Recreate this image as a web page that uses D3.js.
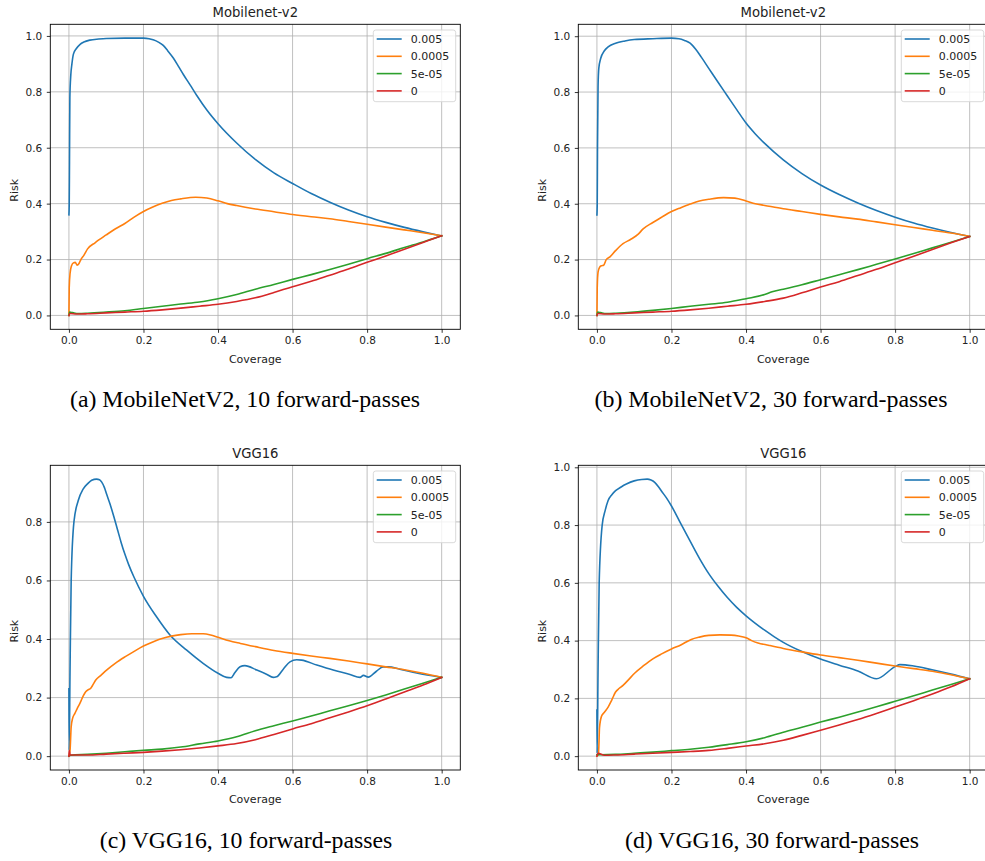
<!DOCTYPE html>
<html>
<head>
<meta charset="utf-8">
<script src="https://cdn.jsdelivr.net/npm/d3@7"></script>
<style>
  html, body { margin: 0; padding: 0; background: #fff; }
  svg { display: block; }
</style>
</head>
<body>
<svg id="chart" width="985" height="861"></svg>
<script>
// ---------------- data ----------------
const seriesNames = ["0.005", "0.0005", "5e-05", "0"];
const seriesColors = ["#1f77b4", "#ff7f0e", "#2ca02c", "#d62728"];
const coverageTicks = [0, 0.2, 0.4, 0.6, 0.8, 1.0];
const riskTicks = [0, 0.2, 0.4, 0.6, 0.8, 1.0];
const panelTitles = ["Mobilenet-v2", "Mobilenet-v2", "VGG16", "VGG16"];
const panelCaptions = [
  "(a) MobileNetV2, 10 forward-passes",
  "(b) MobileNetV2, 30 forward-passes",
  "(c) VGG16, 10 forward-passes",
  "(d) VGG16, 30 forward-passes"
];

// (a) MobileNetV2, 10 forward passes
const mobile10_005 = [[0,0.36],[0.0008,0.40],[0.0015,0.55],[0.0025,0.78],[0.005,0.86],[0.008,0.90],[0.012,0.935],[0.02,0.955],[0.03,0.970],[0.04,0.978],[0.056,0.985],[0.08,0.989],[0.10,0.991],[0.15,0.992],[0.20,0.992],[0.215,0.990],[0.226,0.986],[0.24,0.978],[0.253,0.966],[0.265,0.947],[0.28,0.921],[0.293,0.893],[0.307,0.862],[0.325,0.825],[0.343,0.787],[0.37,0.735],[0.40,0.686],[0.45,0.617],[0.50,0.558],[0.55,0.510],[0.60,0.472],[0.65,0.436],[0.70,0.405],[0.75,0.377],[0.80,0.353],[0.85,0.333],[0.90,0.315],[0.95,0.299],[1.0,0.284]];
const mobile10_0005 = [[0,0],[0.0008,0.10],[0.003,0.15],[0.007,0.178],[0.012,0.188],[0.017,0.19],[0.022,0.18],[0.027,0.186],[0.032,0.20],[0.04,0.215],[0.05,0.238],[0.07,0.26],[0.10,0.288],[0.125,0.31],[0.15,0.329],[0.175,0.352],[0.20,0.372],[0.225,0.388],[0.25,0.401],[0.275,0.411],[0.30,0.417],[0.34,0.423],[0.37,0.42],[0.40,0.41],[0.425,0.40],[0.45,0.393],[0.50,0.381],[0.55,0.371],[0.60,0.361],[0.65,0.353],[0.70,0.346],[0.75,0.336],[0.80,0.326],[0.85,0.316],[0.90,0.306],[0.95,0.296],[1.0,0.285]];
const mobile10_5e5 = [[0,0],[0.002,0.012],[0.01,0.01],[0.025,0.007],[0.05,0.008],[0.1,0.012],[0.15,0.017],[0.2,0.025],[0.25,0.033],[0.3,0.041],[0.35,0.048],[0.4,0.06],[0.45,0.075],[0.5,0.094],[0.55,0.111],[0.6,0.129],[0.65,0.146],[0.7,0.164],[0.75,0.183],[0.8,0.203],[0.85,0.222],[0.9,0.243],[0.95,0.263],[1.0,0.285]];
const mobile10_0 = [[0,0],[0.003,0.007],[0.02,0.005],[0.05,0.006],[0.1,0.009],[0.15,0.012],[0.2,0.015],[0.25,0.02],[0.3,0.026],[0.35,0.033],[0.4,0.04],[0.45,0.05],[0.5,0.063],[0.55,0.082],[0.6,0.103],[0.65,0.122],[0.7,0.144],[0.75,0.166],[0.8,0.19],[0.85,0.213],[0.9,0.237],[0.95,0.261],[1.0,0.285]];

// (b) MobileNetV2, 30 forward passes
const mobile30_005 = [[0,0.36],[0.0008,0.40],[0.0015,0.6],[0.003,0.82],[0.005,0.885],[0.01,0.92],[0.02,0.948],[0.03,0.962],[0.05,0.975],[0.075,0.983],[0.10,0.988],[0.15,0.991],[0.20,0.993],[0.22,0.991],[0.235,0.985],[0.25,0.975],[0.265,0.953],[0.28,0.925],[0.30,0.885],[0.325,0.835],[0.35,0.786],[0.375,0.737],[0.40,0.689],[0.425,0.650],[0.45,0.616],[0.50,0.557],[0.55,0.508],[0.60,0.467],[0.65,0.433],[0.70,0.403],[0.75,0.376],[0.80,0.352],[0.85,0.331],[0.90,0.313],[0.95,0.297],[1.0,0.283]];
const mobile30_0005 = [[0,0],[0.0008,0.10],[0.003,0.155],[0.007,0.172],[0.012,0.178],[0.018,0.18],[0.025,0.2],[0.035,0.21],[0.05,0.232],[0.07,0.257],[0.09,0.272],[0.11,0.29],[0.124,0.31],[0.15,0.333],[0.175,0.353],[0.20,0.372],[0.225,0.386],[0.25,0.399],[0.275,0.41],[0.30,0.416],[0.34,0.422],[0.37,0.42],[0.40,0.41],[0.425,0.40],[0.45,0.394],[0.50,0.382],[0.55,0.372],[0.60,0.362],[0.65,0.353],[0.70,0.345],[0.75,0.335],[0.80,0.325],[0.85,0.315],[0.90,0.305],[0.95,0.295],[1.0,0.283]];
const mobile30_5e5 = [[0,0],[0.002,0.012],[0.01,0.01],[0.025,0.007],[0.05,0.008],[0.1,0.012],[0.15,0.018],[0.2,0.025],[0.25,0.033],[0.3,0.04],[0.35,0.047],[0.4,0.06],[0.45,0.075],[0.47,0.085],[0.5,0.094],[0.55,0.11],[0.6,0.128],[0.65,0.146],[0.7,0.164],[0.75,0.183],[0.8,0.202],[0.85,0.222],[0.9,0.242],[0.95,0.262],[1.0,0.283]];
const mobile30_0 = [[0,0],[0.003,0.007],[0.02,0.005],[0.05,0.006],[0.1,0.009],[0.15,0.012],[0.2,0.015],[0.25,0.02],[0.3,0.026],[0.35,0.033],[0.4,0.04],[0.45,0.05],[0.5,0.062],[0.55,0.081],[0.6,0.102],[0.65,0.121],[0.7,0.143],[0.75,0.165],[0.8,0.189],[0.85,0.212],[0.9,0.236],[0.95,0.26],[1.0,0.283]];

// (c) VGG16, 10 forward passes
const vgg10_005 = [[0,0.23],[0.0006,0.02],[0.003,0.3],[0.006,0.6],[0.0134,0.8],[0.025,0.873],[0.038,0.912],[0.05,0.93],[0.061,0.942],[0.074,0.946],[0.082,0.944],[0.088,0.936],[0.095,0.918],[0.101,0.895],[0.11,0.862],[0.12,0.820],[0.13,0.775],[0.14,0.730],[0.15,0.690],[0.16,0.655],[0.175,0.610],[0.2,0.546],[0.235,0.476],[0.271,0.414],[0.316,0.362],[0.36,0.317],[0.40,0.283],[0.423,0.269],[0.435,0.268],[0.445,0.285],[0.459,0.305],[0.472,0.309],[0.504,0.294],[0.53,0.28],[0.548,0.269],[0.557,0.271],[0.575,0.297],[0.593,0.322],[0.611,0.329],[0.624,0.328],[0.665,0.311],[0.709,0.294],[0.754,0.279],[0.781,0.269],[0.79,0.276],[0.803,0.27],[0.825,0.29],[0.843,0.305],[0.857,0.305],[0.888,0.297],[0.933,0.284],[1.0,0.269]];
const vgg10_0005 = [[0,0],[0.003,0.02],[0.006,0.10],[0.01,0.13],[0.016,0.146],[0.023,0.165],[0.03,0.182],[0.038,0.205],[0.045,0.22],[0.052,0.227],[0.058,0.231],[0.065,0.245],[0.072,0.26],[0.085,0.275],[0.101,0.294],[0.125,0.318],[0.15,0.339],[0.175,0.358],[0.2,0.376],[0.225,0.39],[0.25,0.402],[0.275,0.41],[0.3,0.415],[0.33,0.418],[0.36,0.418],[0.38,0.414],[0.4,0.406],[0.43,0.394],[0.46,0.385],[0.5,0.374],[0.55,0.361],[0.6,0.351],[0.65,0.342],[0.7,0.334],[0.75,0.325],[0.8,0.315],[0.85,0.305],[0.9,0.295],[0.95,0.283],[1.0,0.269]];
const vgg10_5e5 = [[0,0],[0.005,0.003],[0.05,0.006],[0.1,0.01],[0.15,0.015],[0.2,0.02],[0.25,0.024],[0.3,0.031],[0.35,0.042],[0.4,0.052],[0.45,0.066],[0.5,0.087],[0.55,0.104],[0.6,0.12],[0.65,0.137],[0.7,0.155],[0.75,0.172],[0.8,0.19],[0.85,0.209],[0.9,0.229],[0.95,0.249],[1.0,0.269]];
const vgg10_0 = [[0,0],[0.0008,0.02],[0.003,0.004],[0.05,0.004],[0.1,0.007],[0.15,0.01],[0.2,0.013],[0.25,0.017],[0.3,0.022],[0.35,0.028],[0.4,0.035],[0.45,0.043],[0.5,0.056],[0.55,0.074],[0.6,0.093],[0.65,0.111],[0.7,0.131],[0.75,0.151],[0.8,0.172],[0.85,0.195],[0.9,0.219],[0.95,0.243],[1.0,0.269]];

// (d) VGG16, 30 forward passes
const vgg30_005 = [[0,0.16],[0.0006,0.01],[0.003,0.3],[0.006,0.6],[0.014,0.799],[0.022,0.85],[0.03,0.885],[0.04,0.905],[0.05,0.919],[0.065,0.932],[0.079,0.942],[0.1,0.953],[0.12,0.958],[0.135,0.959],[0.145,0.956],[0.155,0.948],[0.165,0.933],[0.173,0.918],[0.186,0.895],[0.2,0.866],[0.225,0.805],[0.249,0.747],[0.275,0.685],[0.3,0.632],[0.325,0.588],[0.35,0.549],[0.375,0.515],[0.4,0.486],[0.425,0.46],[0.45,0.436],[0.475,0.414],[0.5,0.394],[0.55,0.362],[0.6,0.336],[0.65,0.315],[0.7,0.295],[0.75,0.268],[0.8,0.31],[0.813,0.317],[0.85,0.312],[0.902,0.298],[0.95,0.284],[1.0,0.268]];
const vgg30_0005 = [[0,0],[0.004,0.005],[0.007,0.10],[0.012,0.137],[0.02,0.152],[0.03,0.17],[0.04,0.195],[0.05,0.222],[0.06,0.235],[0.07,0.245],[0.085,0.265],[0.101,0.287],[0.125,0.313],[0.15,0.337],[0.175,0.355],[0.2,0.371],[0.225,0.385],[0.253,0.404],[0.275,0.412],[0.3,0.418],[0.33,0.42],[0.36,0.419],[0.38,0.416],[0.4,0.41],[0.415,0.4],[0.432,0.392],[0.46,0.384],[0.5,0.373],[0.55,0.361],[0.6,0.35],[0.65,0.341],[0.7,0.332],[0.75,0.322],[0.8,0.312],[0.85,0.303],[0.9,0.294],[0.95,0.282],[1.0,0.268]];
const vgg30_5e5 = [[0,0.005],[0.01,0.005],[0.05,0.006],[0.1,0.01],[0.15,0.014],[0.2,0.019],[0.25,0.024],[0.3,0.031],[0.35,0.04],[0.4,0.05],[0.45,0.064],[0.5,0.083],[0.55,0.1],[0.6,0.118],[0.65,0.135],[0.7,0.153],[0.75,0.171],[0.8,0.19],[0.85,0.209],[0.9,0.229],[0.95,0.248],[1.0,0.268]];
const vgg30_0 = [[0,0],[0.003,0.01],[0.02,0.003],[0.05,0.004],[0.1,0.007],[0.15,0.01],[0.2,0.013],[0.25,0.016],[0.3,0.02],[0.35,0.027],[0.4,0.035],[0.45,0.043],[0.5,0.055],[0.55,0.072],[0.6,0.09],[0.65,0.108],[0.7,0.127],[0.75,0.148],[0.8,0.17],[0.85,0.192],[0.9,0.215],[0.95,0.24],[1.0,0.268]];

const panelSeries = [
  [mobile10_005, mobile10_0005, mobile10_5e5, mobile10_0],
  [mobile30_005, mobile30_0005, mobile30_5e5, mobile30_0],
  [vgg10_005, vgg10_0005, vgg10_5e5, vgg10_0],
  [vgg30_005, vgg30_0005, vgg30_5e5, vgg30_0]
];

// ---------------- layout ----------------
const layout = [
  { left: 50.3,  top: 24.3,  width: 410, height: 305,   capX: 245, capY: 407.3, capLen: 350 },
  { left: 578.3, top: 24.3,  width: 410, height: 305,   capX: 771, capY: 407.3, capLen: 353 },
  { left: 50.3,  top: 465.3, width: 410, height: 304.7, capX: 246, capY: 848.3, capLen: 292.5 },
  { left: 578.3, top: 465.3, width: 410, height: 304.7, capX: 772, capY: 848.3, capLen: 294 }
];

const svg = d3.select("#chart");
const FONT = "'DejaVu Sans', sans-serif";

panelSeries.forEach((series, i) => {
  const L = layout[i];
  const g = svg.append("g").attr("transform", `translate(${L.left},${L.top})`);

  const x = d3.scaleLinear().domain([-0.05, 1.05]).range([0, L.width]);
  const allY = series.flat().map(d => d[1]);
  const [ymin, ymax] = d3.extent(allY);
  const pad = (ymax - ymin) * 0.05;
  const y = d3.scaleLinear().domain([ymin - pad, ymax + pad]).range([L.height, 0]);
  const yT = riskTicks.filter(t => t >= y.domain()[0] && t <= y.domain()[1]);

  // grid
  g.append("g").selectAll("line").data(coverageTicks).join("line")
    .attr("x1", d => x(d)).attr("x2", d => x(d))
    .attr("y1", 0).attr("y2", L.height)
    .attr("stroke", "#b0b0b0").attr("stroke-width", 0.8);
  g.append("g").selectAll("line").data(yT).join("line")
    .attr("x1", 0).attr("x2", L.width)
    .attr("y1", d => y(d)).attr("y2", d => y(d))
    .attr("stroke", "#b0b0b0").attr("stroke-width", 0.8);

  // clip
  const cid = "clip" + i;
  g.append("clipPath").attr("id", cid).append("rect")
    .attr("width", L.width).attr("height", L.height);

  const line = d3.line().x(d => x(d[0])).y(d => y(d[1])).curve(d3.curveMonotoneX);
  const lines = g.append("g").attr("clip-path", `url(#${cid})`);
  series.forEach((s, k) => {
    lines.append("path").datum(s)
      .attr("d", line)
      .attr("fill", "none")
      .attr("stroke", seriesColors[k])
      .attr("stroke-width", 1.6)
      .attr("stroke-linejoin", "round")
      .attr("stroke-linecap", "square");
  });

  // axes
  const xAxis = d3.axisBottom(x).tickValues(coverageTicks).tickFormat(d3.format(".1f"))
    .tickSize(3.5).tickPadding(4);
  const yAxis = d3.axisLeft(y).tickValues(yT).tickFormat(d3.format(".1f"))
    .tickSize(3.5).tickPadding(4.5);
  const gx = g.append("g").attr("transform", `translate(0,${L.height})`).call(xAxis);
  const gy = g.append("g").call(yAxis);
  [gx, gy].forEach(a => {
    a.select(".domain").remove();
    a.selectAll(".tick line").attr("stroke", "#000").attr("stroke-width", 0.8);
    a.selectAll(".tick text").attr("fill", "#222").style("font-family", FONT).style("font-size", "10.5px");
  });

  // frame
  g.append("rect").attr("width", L.width).attr("height", L.height)
    .attr("fill", "none").attr("stroke", "#000").attr("stroke-width", 0.9);

  // title
  g.append("text").attr("x", L.width / 2).attr("y", -7)
    .attr("text-anchor", "middle").attr("fill", "#222")
    .style("font-family", FONT).style("font-size", "13.2px")
    .text(panelTitles[i]);

  // axis labels
  g.append("text").attr("x", L.width / 2).attr("y", L.height + 33.4)
    .attr("text-anchor", "middle").attr("fill", "#222")
    .style("font-family", FONT).style("font-size", "11px")
    .text("Coverage");
  g.append("text").attr("transform", `translate(-32.6,${L.height / 2 + 13.5}) rotate(-90)`)
    .attr("text-anchor", "middle").attr("fill", "#222")
    .style("font-family", FONT).style("font-size", "11px")
    .text("Risk");

  // legend
  const lg = g.append("g").attr("transform", `translate(${L.width - 87},5.7)`);
  lg.append("rect").attr("width", 82.4).attr("height", 71.7).attr("rx", 2.5)
    .attr("fill", "#fff").attr("fill-opacity", 0.8)
    .attr("stroke", "#d5d5d5").attr("stroke-width", 0.9);
  seriesNames.forEach((name, k) => {
    const yy = 9 + k * 17.3;
    lg.append("line").attr("x1", 3.4).attr("x2", 28.4).attr("y1", yy).attr("y2", yy)
      .attr("stroke", seriesColors[k]).attr("stroke-width", 1.6);
    lg.append("text").attr("x", 37.4).attr("y", yy).attr("dy", "0.36em")
      .attr("fill", "#222").style("font-family", FONT).style("font-size", "11px")
      .text(name);
  });

  // caption
  svg.append("text").attr("x", L.capX).attr("y", L.capY)
    .attr("text-anchor", "middle").attr("fill", "#000")
    .attr("textLength", L.capLen).attr("lengthAdjust", "spacingAndGlyphs")
    .style("font-family", "'Liberation Serif', 'Times New Roman', serif")
    .style("font-size", "23px")
    .text(panelCaptions[i]);
});
</script>
</body>
</html>
